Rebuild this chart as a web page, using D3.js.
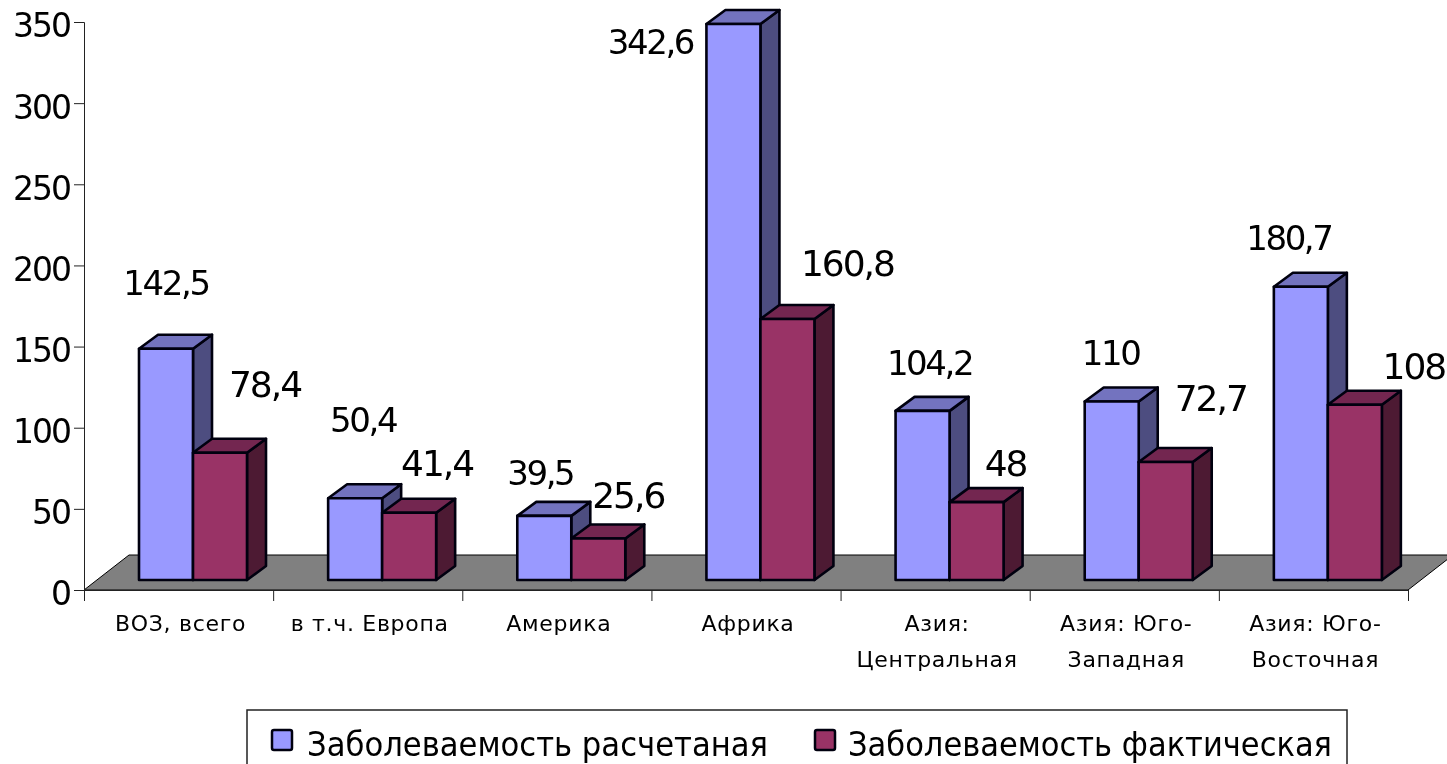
<!DOCTYPE html>
<html><head><meta charset="utf-8">
<script src="https://cdn.jsdelivr.net/npm/d3@7/dist/d3.min.js"></script>
<style>html,body{margin:0;padding:0;background:#fff;overflow:hidden}svg{display:block;filter:blur(0.4px)}text{font-family:"DejaVu Sans",sans-serif;fill:#000}</style>
</head><body><svg id="c" width="1447" height="764"></svg>
<script>
const categories = ["ВОЗ, всего","в т.ч. Европа","Америка","Африка","Азия: Центральная","Азия: Юго-Западная","Азия: Юго-Восточная"];
const categoryLines = [["ВОЗ, всего"],["в т.ч. Европа"],["Америка"],["Африка"],["Азия:","Центральная"],["Азия: Юго-","Западная"],["Азия: Юго-","Восточная"]];
const seriesNames = ["Заболеваемость расчетаная","Заболеваемость фактическая"];
const estimated = [142.5,50.4,39.5,342.6,104.2,110,180.7];
const actual = [78.4,41.4,25.6,160.8,48,72.7,108];
const yTicks = [0,50,100,150,200,250,300,350];

// label placement relative to the top-centre of each bar (manual in the original)
const labelShift = [
  [[0,-66],[8,-78],[-4,-43],[-83,18],[7,-48],[-1,-48],[-12,-49]],
  [[45,-68],[28,-49],[30,-43],[60,-56],[29,-39],[45,-64],[59,-38]]
];
const labelFont = [34,36];
const labelSpacing = [-2.4,-2];
const palette = [
  {front:"#9999ff",side:"#4d4d80",top:"#7373bf"},
  {front:"#993366",side:"#4d1a33",top:"#732650"}
];
const svg = d3.select("#c");
const y = d3.scaleLinear().domain([0,350]).range([590,22]);
const x = d3.scaleBand().domain(categories).range([84,1408]).padding(0);
const dx = 19, dy = 14, barW = 54, inset = 55, lift = 10, depthX = 45, depthY = 35;
const fmt = v => String(v).replace(".",",");

// floor
svg.append("path")
  .attr("d",d3.line()([[x.range()[0],y(0)],[x.range()[1],y(0)],[x.range()[1]+depthX,y(0)-depthY],[x.range()[0]+depthX,y(0)-depthY]])+"Z")
  .attr("fill","#808080").attr("stroke","#000").attr("stroke-width",1);

// bars
const S = "#00000f";
categories.forEach((c,i)=>{
  [estimated,actual].forEach((arr,s)=>{
    const x0 = x(c)+inset+s*barW, x1 = x0+barW, yt = y(arr[i])-lift, yb = y(0)-lift;
    const g = svg.append("g").attr("stroke",S).attr("stroke-width",2.6).attr("stroke-linejoin","round");
    g.append("path").attr("fill",palette[s].side)
      .attr("d",d3.line()([[x1,yt],[x1+dx,yt-dy],[x1+dx,yb-dy],[x1,yb]])+"Z");
    g.append("path").attr("fill",palette[s].top)
      .attr("d",d3.line()([[x0,yt],[x0+dx,yt-dy],[x1+dx,yt-dy],[x1,yt]])+"Z");
    g.append("rect").attr("x",x0).attr("y",yt).attr("width",barW).attr("height",yb-yt).attr("fill",palette[s].front);
  });
});

// axes
const ya = svg.append("g").attr("transform",`translate(${x.range()[0]},0)`)
  .call(d3.axisLeft(y).tickValues(yTicks).tickSize(10).tickPadding(4).tickFormat(d=>d));
ya.select(".domain").attr("stroke","#222").attr("stroke-width",1);
ya.selectAll(".tick line").attr("stroke","#222");
ya.selectAll("text").attr("font-size",33).attr("letter-spacing",-2).attr("font-family","DejaVu Sans").attr("dy","0.45em");

const xEdges = d3.scaleLinear().domain([0,categories.length]).range(x.range());
const xa = svg.append("g").attr("transform",`translate(0,${y(0)})`)
  .call(d3.axisBottom(xEdges).tickValues(d3.range(categories.length+1)).tickSize(11).tickFormat(""));
xa.select(".domain").attr("stroke","#222").attr("stroke-width",1);
xa.selectAll(".tick line").attr("stroke","#222");

categories.forEach((c,i)=>{
  const t = svg.append("text").attr("text-anchor","middle").attr("font-size",22).attr("letter-spacing",0.7);
  categoryLines[i].forEach((ln,k)=>{
    t.append("tspan").attr("x",x(c)+x.bandwidth()/2+2).attr("y",631+k*36).text(ln);
  });
});

// value labels
[estimated,actual].forEach((arr,s)=>{
  arr.forEach((v,i)=>{
    const cx = x(categories[i])+inset+s*barW+barW/2;
    svg.append("text").attr("x",cx+labelShift[s][i][0]).attr("y",y(v)-lift+labelShift[s][i][1])
      .attr("text-anchor","middle").attr("dominant-baseline","central")
      .attr("font-size",labelFont[s]).attr("letter-spacing",labelSpacing[s]).text(fmt(v));
  });
});

// legend
const lg = svg.append("g");
lg.append("rect").attr("x",247).attr("y",710).attr("width",1100).attr("height",70).attr("fill","#fff").attr("stroke","#222").attr("stroke-width",1.5);
[[272,307,461],[815,848,484]].forEach((p,i)=>{
  lg.append("rect").attr("x",p[0]).attr("y",730).attr("width",20).attr("height",20).attr("rx",2)
    .attr("fill",palette[i].front).attr("stroke","#00000f").attr("stroke-width",2.5);
  lg.append("text").attr("x",p[1]).attr("y",756).attr("font-size",33)
    .attr("textLength",p[2]).attr("lengthAdjust","spacingAndGlyphs").text(seriesNames[i]);
});
</script></body></html>
